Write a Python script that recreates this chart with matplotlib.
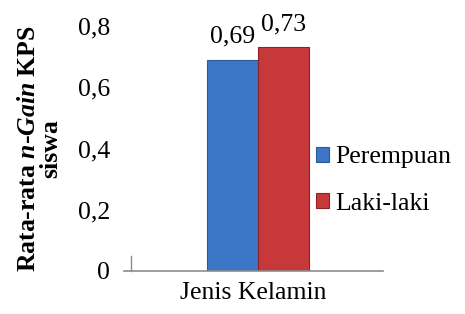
import matplotlib
matplotlib.use("Agg")
import matplotlib.pyplot as plt

kategori = ['Jenis Kelamin']
seri = ['Perempuan', 'Laki-laki']
nilai = [0.69, 0.73]
warna = ['#3b77c6', '#c7383b']
tepi = ['#2a5a9c', '#8e2426']
yticks = [0, 0.2, 0.4, 0.6, 0.8]

plt.rcParams['font.family'] = 'Liberation Serif'
plt.rcParams['mathtext.fontset'] = 'custom'
plt.rcParams['mathtext.rm'] = 'Liberation Serif:bold'
plt.rcParams['mathtext.it'] = 'Liberation Serif:italic:bold'

fs = 18.5
fig = plt.figure(figsize=(4.65, 3.14), dpi=100)
ax = fig.add_axes([0.267, 0.137, 0.557, 0.780])

w = 0.394
pusat = 0.035
for i, (s, v) in enumerate(zip(seri, nilai)):
    x = pusat + (i - 0.5) * w
    ax.bar(x, v, width=w, color=warna[i], edgecolor=tepi[i], linewidth=0.8, label=s)
    ax.annotate(('%.2f' % v).replace('.', ','), (x, v), xytext=(0, 9),
                textcoords='offset points', ha='center', va='bottom', fontsize=fs)

ax.set_xlim(-1, 1)
ax.set_ylim(0, 0.8)
ax.set_yticks(yticks)
ax.set_yticklabels([('%g' % t).replace('.', ',') for t in yticks], fontsize=fs)
ax.set_xticks([0])
ax.set_xticklabels(kategori, fontsize=fs)
ax.tick_params(axis='y', length=0, pad=10)
ax.tick_params(axis='x', length=0, pad=8)
for sp in ['left', 'right', 'top']:
    ax.spines[sp].set_visible(False)
ax.spines['bottom'].set_color('#8c8c8c')
ax.spines['bottom'].set_linewidth(1.2)
ax.plot([-0.946, -0.946], [0, 0.05], color='#8c8c8c', lw=1.0, clip_on=False)

ax.set_ylabel('Rata-rata $n$-$Gain$ KPS\nsiswa', fontsize=fs, fontweight='bold',
              linespacing=0.95)
ax.yaxis.set_label_coords(-0.24, 0.5)

leg = ax.legend(loc='center left', bbox_to_anchor=(0.679, 0.425), bbox_transform=fig.transFigure,
                frameon=False, fontsize=fs, handlelength=0.5, handleheight=0.5,
                handletextpad=0.25, labelspacing=0.95, borderpad=0, borderaxespad=0)

fig.savefig('out.png', dpi=100)
